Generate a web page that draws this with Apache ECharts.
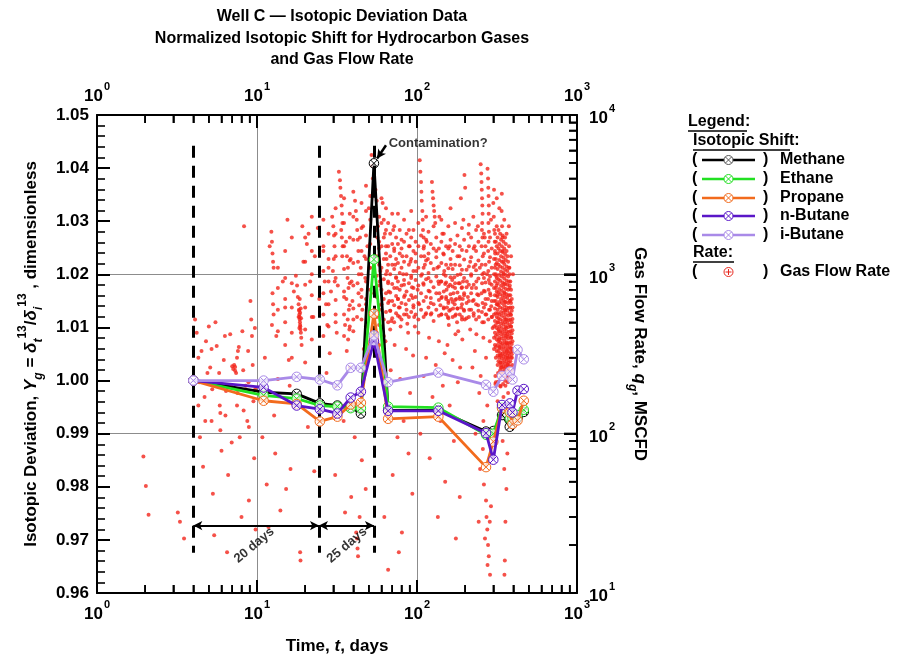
<!DOCTYPE html>
<html><head><meta charset="utf-8">
<script src="https://cdn.jsdelivr.net/npm/echarts@6/dist/echarts.min.js"></script>
<style>html,body{margin:0;padding:0;background:#fff}#c{width:903px;height:665px}</style>
</head><body><div id="c"></div>
<script>
const FONT = '"Liberation Sans", Arial, Helvetica, sans-serif';

// ---- isotopic data (time in days, normalized isotopic shift) ----
const isoTime   = [4, 11, 17.7, 24.7, 31.8, 38.5, 44.6, 53.8, 66, 136, 270, 300, 340, 380, 395, 425, 465];
const methane   = [1.0000, 0.9978, 0.9975, 0.9957, 0.9953, 0.9950, 0.9938, 1.0409, 0.9944, 0.9944, 0.9904, 0.9905, 0.9935, 0.9913, 0.9925, 0.9930, 0.9941];
const ethane    = [1.0000, 0.9972, 0.9966, 0.9953, 0.9951, 0.9948, 0.9948, 1.0228, 0.9951, 0.9949, 0.9898, 0.9900, 0.9950, 0.9928, 0.9930, 0.9935, 0.9945];
const propane   = [1.0000, 0.9962, 0.9956, 0.9923, 0.9932, 0.9955, 0.9958, 1.0126, 0.9928, 0.9932, 0.9837, 0.9885, 0.9948, 0.9940, 0.9918, 0.9925, 0.9962];
const nButane   = [1.0000, 0.9987, 0.9953, 0.9946, 0.9938, 0.9968, 0.9979, 1.0074, 0.9943, 0.9943, 0.9901, 0.9851, 0.9954, 0.9957, 0.9940, 0.9981, 0.9984];
const iButane   = [1.0000, 1.0000, 1.0007, 1.0002, 0.9991, 1.0024, 1.0024, 1.0085, 0.9997, 1.0015, 0.9992, 0.9979, 1.0009, 1.0017, 1.0002, 1.0058, 1.0040];
const gasNames  = ['Methane', 'Ethane', 'Propane', 'n-Butane', 'i-Butane'];
const gasColors = ['#000000', '#22e022', '#f26b1d', '#5a16c8', '#a98ae8'];
const gasValues = [methane, ethane, propane, nButane, iButane];
const drawOrder = [0, 1, 2, 4, 3];

// ---- gas flow rate (time in days, MSCFD): individual points ----
const gasRate = [
 [1.95,72],[2.02,47],[2.1,31],[3.2,32],[3.3,28],[3.5,22],
 [4.1,520],[4.2,430],[4.3,150],[4.4,95],[4.5,330],[4.6,62],[4.8,380],[5.0,470],[5.1,260],[5.2,120],[5.3,42],[5.5,500],[5.6,355],[5.7,210],[5.9,135],[6.0,78],[6.2,290],[6.4,185],[6.6,55],[6.8,420],[7.0,265],[7.1,255],[7.2,270],[7.3,248],[7.3,262],[7.4,240],[7.5,150],[7.7,350],[7.8,95],[8.0,30],[8.3,2000],[8.5,200],[8.7,120],[8.9,38],[9.1,680],[9.2,520],[9.3,410],[9.4,270],[9.5,160],[9.6,70],[9.8,25],[6.5,18],[5.4,23],[7.6,330],[4.9,240],[8.1,440],
 [4.3,300],[4.35,210],[4.7,170],[4.75,120],[5.2,340],[5.25,190],[5.8,240],[5.85,150],[5.9,105],[6.3,410],[6.35,130],[6.9,200],[6.95,88],[7.5,300],[7.55,180],[8.2,250],[8.25,140],[8.8,330],[8.85,210],[8.9,110],[9.7,460],[9.75,190],
 [10.5,170],[10.8,95],[11.2,300],[11.5,48],[12.0,1500],[12.3,1850],[12.4,1600],[12.5,1350],[12.6,1200],[12.7,1100],[12.5,760],[12.6,650],[12.7,560],[12.4,480],[12.8,130],[13.2,410],[13.5,220],[14.0,33],[14.5,900],[15.0,620],[15.5,2200],[15.8,290],[16.2,60],[16.5,1700],[17.0,780],[17.5,980],[17.8,850],[18.0,720],[18.2,650],[18.3,600],[18.4,560],[18.5,520],[18.6,480],[18.7,450],[18.8,430],[18.9,400],[19.0,360],[18.5,700],[18.2,540],[19.2,2000],[19.5,1200],[20.0,280],[20.5,1550],[21.0,1800],[21.5,900],[22.0,2300],[22.5,540],[23.0,1300],[23.5,150],[24.0,1950],[24.5,700],[16.0,200],[13.0,75],[15.2,45],[20.8,110],[22.8,58],[18.6,18],[18.7,16],[11.8,26],
 [18.35,590],[18.45,540],[18.55,500],[18.65,470],[18.75,610],[18.85,530],[18.4,460],[18.6,575],
 [32.5,4400],[33,3900],[33.2,3500],[33.5,3100],[33.8,2700],[34,2400],[34.2,2100],[33.6,1900],[33.9,1700],[34.3,1500],[34.1,1300],
 [29.5,2300],[30,2000],[30.3,1750],[30.5,1500],[30.2,1250],[29.8,1050],[30.6,900],
 [41,2900],[41.5,2500],[42,2200],[42.3,1900],[42.6,1650],[43,1400],[42.8,1200],[43.3,1000],[42.5,880],[43.1,760],[43.5,640],[42.2,540],
 [36,1600],[36.5,1300],[37,1100],[36.8,950],[37.3,820],[36.2,700],[37.5,600],[36.9,520],[37.8,450],[37.1,390],[36.4,330],
 [26,1400],[26.5,900],[27,650],[27.5,480],[28,1100],[28.5,320],[29,780],[31,560],[31.5,430],[32,850],[35,720],[35.5,480],[38.5,1250],[39,900],[39.5,680],[40,520],[44,1700],[44.5,1100],[45,800],[45.5,600],[46,2000],[47,1300],[47.5,950],[48,700],[49,1500],[50,2600],[50.5,1100],[27.2,240],[31.2,200],[38.2,260],[46.5,340],[28.8,150],[34.8,120],[40.8,95],[45.2,68],[30.8,55],[38.8,40],[43.8,30],[42.2,22],[42.5,19],[42.8,17],[41.7,24],[35.5,32],[47.8,45],
 [52,5600],[52.5,4800],[53,4000],[55,3400],[56,2900],[55.5,2400],[57,2000],[56.5,1700],[58,1450],[57.5,1250],[59,1050],[58.5,900],[54,760],[60,650],[53.5,560],
 [61,2800],[62,2200],[63,1800],[64,1500],[64.5,1250],[65,1050],[66,900],[66.5,780],[67,680],[68,590],[69,510],[70,2400],[71,1900],[72,1400],[73,1150],[74,960],[75,820],[76,700],[77,620],[78,540],[79,470],[80,1650],[81,1300],[82,1000],[83,860],[84,740],[85,650],[86,560],[87,490],[88,430],[89,1900],[90,1500],[91,1200],[92,980],[93,830],[94,710],[95,620],[96,540],[97,470],[98,1350],[99,1050],[63.5,380],[72.5,360],[85.5,340],[94.5,310],[68.5,250],[78.5,220],[90.5,180],[65.5,140],[82.5,120],[75.5,95],[88.5,75],[70.5,55],[93.5,42],[62.5,30],[80.5,24],[77,18],[66,14],
 [104,5200],[105,4400],[106,3800],[106.5,3300],[107,2900],[108,2500],[108.5,2200],[109,1900],[110,1700],[110.5,1500],[111,1300],[112,1150],[107.5,1000],[109.5,880],
 [124,3800],[125,3300],[126,3000],[127,2700],[128,2500],[129,2300],[130,2100],
 [101,800],[103,650],[113,560],[115,1600],[117,1250],[118,950],[120,780],[122,660],[123,570],[132,1400],[134,1100],[136,900],[138,760],[140,640],[142,560],[144,1800],[146,1350],[148,1050],[150,870],[152,720],[154,620],[156,540],[158,480],[160,1500],[163,1150],[166,920],[169,760],[172,650],[175,560],[178,500],[181,440],[184,1300],[187,1000],[190,820],[193,700],[196,600],[199,520],[102,430],[119,400],[137,380],[155,360],[174,420],[192,390],[114,300],[131,270],[149,320],[167,290],[186,260],[110,230],[145,200],[180,210],[125,170],[160,150],[140,120],[105,100],[170,90],[120,70],[150,50],[185,40],[135,30],[175,22],[195,2200],[162,2600],[138,2300],[188,3000],[198,4200],[200,3500],
 [141,900],[143,720],[147,610],[151,980],[153,800],[157,680],[159,590],[161,860],[164,700],[168,610],[171,960],[173,820],[176,700],[179,610],[182,880],[185,720],[189,620],[191,540],[194,900],[197,760],
 [250,4900],[252,4300],[253,3800],[254,3400],[255,3000],[256,2700],[257,2400],[255.5,2100],[254.5,1900],[256.5,1700],[253.5,1500],[257.5,1300],[254,1150],[256,1000],[255,880],[253,760],[257,660],[254.5,580],[256,500],
 [276,4600],[278,4000],[279,3500],[280,3100],[281,2700],[280.5,2400],[279.5,2100],[281.5,1850],[280,1600],[278.5,1400],[282,1200],[279,1050],[281,920],[280,800],[278,700],[282,600],[279,520],
 [205,900],[208,720],[212,600],[215,1200],[218,1000],[220,820],[223,680],[226,570],[229,1500],[232,1150],[235,900],[238,750],[241,640],[244,540],[247,1100],[262,950],[265,780],[268,650],[271,560],[274,1000],[285,880],[288,740],[291,630],[294,540],[297,460],[210,1800],[225,2300],[240,2000],[265,1700],[290,2200],[215,450],[235,420],[260,400],[285,380],[230,330],[270,300],[222,260],[250,230],[245,180],[275,150],[260,120],[232,100],
 [248,60],[262,48],[270,38],[272,30],[275,25],[278,20],[281,17],[276,15],[266,22],[285,28],[290,35],[258,80],[243,28],[286,13],
 [300,2800],[302,2300],[304,1900],[306,1600],[308,1350],[310,1150],[312,980],[314,850],[316,740],[318,650],[320,570],[322,500],[324,440],[326,390],[328,350],[330,310],[332,280],[334,260],[336,240],[338,2500],[340,2000],[342,1700],[344,1400],[346,1200],[348,1000],[350,870],[352,760],[354,670],[356,590],[358,520],[360,460],[362,410],[364,370],[366,330],[368,300],[370,270],[372,250],[374,230],[376,1500],[378,1100],[380,850],[382,680],[384,560],[386,470],[388,400],[390,340],[392,300],[394,270],[396,250],[398,1000],
 [303,3400],[315,3000],[327,2600],[339,3200],[351,2200],[363,1800],[375,2000],[387,1300],[311,210],[331,200],[355,215],[379,220],[319,160],[347,170],[371,180],[335,130],[359,140],[383,110],[343,90],[367,75],[351,60],[362,45],[357,28],[354,16],[352,13]
];

// ---- gas flow rate: dense columns, [time, rate, rate, ...] ----
const rateColumns = [
 [13.5,1100,820,600,440],[15,1400,950,700,500,360],[16.5,880,620,430,300],[20,1700,1200,860,620,450],[22,1400,1000,740,540,390],
 [26,2200,1500,1050,760,560,410],[28,1800,1250,900,650,470],[31,2600,1800,1300,950,690,500],[35,3000,2100,1500,1080,780,560,410],
 [38,2400,1700,1220,880,640,470],[40,3300,2300,1650,1180,850,610,440],[45,2800,1950,1400,1000,720,520],[48,3600,2500,1750,1250,900,650,470],[51,3100,2200,1550,1100,800],
 [56,1900,1300,980,720,540,430],[58,2300,1600,1150,850,640,480,360],[60,3000,2100,1500,1100,800,600,470],[62,1700,1250,930,700,520,410],
 [64,2600,1900,1350,1000,760,580],[66,2100,1500,1150,880,660,500],[68,1800,1300,1000,770,590,450],[70,1550,1150,870,680,530],
 [72,2000,1450,1080,820,640,500],[74,1700,1250,950,730,570],[76,2400,1550,1180,900,700,550],[78,1900,1350,1020,800,620],
 [80,1450,1100,850,660,520],[83,2200,1600,1200,920,720,560],[86,1800,1300,1000,780,600],[89,1500,1150,880,690,540],
 [92,2500,1700,1250,950,740,580],[95,1900,1400,1050,820,640],[98,1600,1200,920,720,560],[102,2100,1500,1100,850,660,520],
 [106,1750,1300,980,760,600],[110,1450,1100,860,680,540],[114,2300,1650,1220,930,720,570],[118,1850,1350,1020,790,620],
 [122,1550,1180,900,710,560],[127,2000,1450,1080,830,650,510],[132,1700,1280,970,760,600],[137,1450,1120,870,690,550],
 [142,2200,1600,1180,900,710,560],[147,1800,1330,1000,780,620],[152,1500,1150,890,700,560],[157,2000,1450,1090,840,660,530],
 [162,1650,1250,960,750,600],[167,1400,1080,840,670,540],[173,2100,1550,1150,880,690,550],[179,1750,1300,990,770,610],
 [185,1500,1140,880,700,560],[191,1950,1420,1070,830,650,520],[197,1650,1240,950,740,590],[204,1400,1070,830,660,530],
 [211,2050,1500,1120,860,680,540],[218,1700,1280,980,760,600],[226,1450,1110,860,690,550],[234,1900,1400,1060,820,650,520],
 [242,1600,1220,940,740,590],[262,1800,1350,1020,790,620,500],[268,1500,1150,890,700,560],[286,1700,1280,970,760,600],[293,1450,1100,860,680,540],
 [303,1250,1000,820,680,560,470,400,340],[307,1800,1400,1100,900,740,610,510,430,360],[311,1600,1250,1000,820,680,570,480,410,350,300],
 [315,2000,1500,1180,950,780,650,540,460,390,330],[319,1700,1350,1080,880,720,600,500,420,360,310,270],
 [323,1900,1450,1150,930,770,640,530,450,380,330,285],[327,1550,1230,990,810,670,560,470,400,345,300],
 [331,1800,1400,1120,910,750,620,520,440,375,320,280,250],[335,1650,1300,1040,850,700,580,490,420,360,310,270],
 [339,1500,1200,970,790,660,550,460,395,340,295,260],[343,1750,1380,1100,890,730,610,510,435,370,320,280,245],
 [347,1600,1270,1020,830,690,575,485,410,350,305,265],[351,1450,1160,940,770,640,535,450,385,330,290,255],
 [355,1700,1340,1070,870,720,600,500,425,365,315,275],[359,1550,1230,990,810,670,560,470,400,345,300,262],
 [363,1400,1120,910,750,620,520,440,375,325,285,250],[367,1300,1050,860,710,590,495,420,360,310,270],
 [371,1200,970,800,660,550,465,395,340,295,258],[375,1100,900,740,615,515,435,370,320,280],
 [379,1000,820,680,570,480,410,350,305,265],[383,900,740,620,520,440,375,325,285],[387,800,660,555,470,400,345,300],
 [391,700,590,500,425,365,315],[395,620,525,445,380,330],
 [309,230,205],[321,240,212],[333,225,198],[345,232,205],[357,228,200],[369,235,210]
];

// ---- annotations & ticks ----
const periodLines  = [4, 24.4, 53.8];          // dashed vertical markers (days)
const periodLabels = ['20 days', '25 days'];
const labelTimes   = [9.6, 36.5];
const xTickValues  = [1, 10, 100, 1000];
const rateTickValues = [10, 100, 1000, 10000];

function minorLog(lo, hi) {
  const out = [];
  for (let d = lo; d < hi; d *= 10) for (let k = 2; k <= 9; k++) out.push(d * k);
  return out;
}
const ratePoints = gasRate.slice();
rateColumns.forEach(c => { for (let k = 1; k < c.length; k++) ratePoints.push([c[0], c[k]]); });

const XC = 'path://M0,10A10,10,0,1,1,20,10A10,10,0,1,1,0,10Z M2.93,2.93L17.07,17.07M17.07,2.93L2.93,17.07';

const supRich = {
  b: {fontSize: 17, fontWeight: 'bold', fontFamily: FONT, color: '#000', lineHeight: 24, verticalAlign: 'bottom'},
  s: {fontSize: 11, fontWeight: 'bold', fontFamily: FONT, color: '#000', lineHeight: 24, verticalAlign: 'top', padding: [0, 0, 0, 1]}
};
const supFmt = v => '{b|10}{s|' + Math.round(Math.log10(v)) + '}';
const NF = 17;
const nameRich = {
  i: {fontSize: NF, fontWeight: 'bold', fontStyle: 'italic', fontFamily: FONT, color: '#000'},
  sb: {fontSize: 12, fontWeight: 'bold', fontStyle: 'italic', fontFamily: FONT, color: '#000', verticalAlign: 'bottom', lineHeight: 28},
  sp: {fontSize: 12, fontWeight: 'bold', fontFamily: FONT, color: '#000', verticalAlign: 'top', lineHeight: 28}
};
const nameStyle = {fontSize: NF, fontWeight: 'bold', fontFamily: FONT, color: '#000', lineHeight: 28, rich: nameRich};

const logTicks = {
  axisTick: {show: true, inside: true, length: 13, lineStyle: {color: '#000', width: 2}},
  minorTick: {show: true, splitNumber: 9, length: 8, lineStyle: {color: '#000', width: 1.6}}
};
const baseLog = (pos, margin) => Object.assign({
  type: 'log', logBase: 10, min: 1, max: 1000, interval: 1, position: pos,
  axisLine: {show: true, onZero: false, lineStyle: {color: '#000', width: 2}},
  axisLabel: {show: true, formatter: supFmt, rich: supRich, margin: margin},
  splitLine: {show: false}
}, logTicks);

const xBottom = baseLog('bottom', 6);
xBottom.splitLine = {show: true, lineStyle: {color: '#8c8c8c', width: 1}};
xBottom.name = 'Time, {i|t}, days';
xBottom.nameLocation = 'middle';
xBottom.nameGap = 39;
xBottom.nameTextStyle = nameStyle;
const xTop = baseLog('top', 10);

const series = [];
series.push({
  type: 'scatter', name: 'Gas Flow Rate', xAxisIndex: 0, yAxisIndex: 1,
  data: ratePoints, symbol: 'circle', symbolSize: 4,
  itemStyle: {color: '#f2261b'}, z: 2, silent: true
});
drawOrder.forEach(i => {
  series.push({
    type: 'line', name: gasNames[i], xAxisIndex: 0, yAxisIndex: 0,
    data: isoTime.map((t, k) => [t, gasValues[i][k]]),
    symbol: XC, symbolSize: 9.5, symbolKeepAspect: true, showAllSymbol: true,
    lineStyle: {color: gasColors[i], width: 2.8},
    itemStyle: {color: 'rgba(255,255,255,0.75)', borderColor: gasColors[i], borderWidth: 1},
    z: 4 + i
  });
});
// dashed period markers
series.push({
  type: 'line', xAxisIndex: 0, yAxisIndex: 0, data: [], z: 10,
  markLine: {
    silent: true, symbol: ['none', 'none'], label: {show: false},
    lineStyle: {color: '#000', width: 3, type: [12, 8]},
    data: periodLines.map(t => [{coord: [t, 1.0442]}, {coord: [t, 0.9676]}])
  }
});
// interval arrows
series.push({
  type: 'line', xAxisIndex: 0, yAxisIndex: 0, data: [], z: 10,
  markLine: {
    silent: true, symbol: ['arrow', 'arrow'], symbolSize: [7, 9], label: {show: false},
    lineStyle: {color: '#000', width: 2, type: 'solid'},
    data: [[{coord: [periodLines[0], 0.9727]}, {coord: [periodLines[1], 0.9727]}],
           [{coord: [periodLines[1], 0.9727]}, {coord: [periodLines[2], 0.9727]}]]
  }
});
// contamination arrow
series.push({
  type: 'line', xAxisIndex: 0, yAxisIndex: 0, data: [], z: 10,
  markLine: {
    silent: true, symbol: ['none', 'arrow'], symbolSize: [7, 9], label: {show: false},
    lineStyle: {color: '#000', width: 2.5, type: 'solid'},
    data: [[{coord: [64, 1.0443]}, {coord: [56.3, 1.0418]}]]
  }
});
// text labels
series.push({
  type: 'scatter', xAxisIndex: 0, yAxisIndex: 0, symbolSize: 0, z: 11, silent: true,
  data: periodLabels.map((s, k) => ({value: [labelTimes[k], 0.9690], name: s})),
  label: {show: true, formatter: p => p.name, rotate: 40, position: 'inside',
          fontSize: 13, fontWeight: 'bold', fontFamily: FONT, color: '#000'}
});
series.push({
  type: 'scatter', xAxisIndex: 0, yAxisIndex: 0, symbolSize: 0, z: 11, silent: true,
  data: [{value: [66.5, 1.0447], name: 'Contamination?'}],
  label: {show: true, formatter: p => p.name, position: 'right', distance: 0,
          fontSize: 13, fontWeight: 'bold', fontFamily: FONT, color: '#000'}
});

// legend drawn as graphics
const LF = 16;
const g = [];
const txt = (x, y, s) => ({type: 'text', x: x, y: y, silent: true,
  style: {text: s, font: 'bold ' + LF + 'px ' + FONT, fill: '#000', align: 'left', verticalAlign: 'middle'}});
g.push(txt(688, 122, 'Legend:'));
g.push({type: 'line', silent: true, shape: {x1: 688, y1: 131, x2: 747, y2: 131}, style: {stroke: '#000', lineWidth: 1.5}});
g.push(txt(693, 141, 'Isotopic Shift:'));
g.push({type: 'line', silent: true, shape: {x1: 693, y1: 150, x2: 790, y2: 150}, style: {stroke: '#000', lineWidth: 1.5}});
const rowY = [160, 179, 198, 216, 235];
gasNames.forEach((n, i) => {
  const y = rowY[i];
  const mc = gasColors[i] === '#000000' ? '#555' : gasColors[i];
  g.push(txt(692, y, '('));
  g.push({type: 'line', silent: true, shape: {x1: 702, y1: y, x2: 755, y2: y}, style: {stroke: gasColors[i], lineWidth: 2.6}});
  g.push({type: 'circle', silent: true, shape: {cx: 728.5, cy: y, r: 4.5}, style: {fill: '#fff', stroke: mc, lineWidth: 1}});
  g.push({type: 'line', silent: true, shape: {x1: 725.3, y1: y - 3.2, x2: 731.7, y2: y + 3.2}, style: {stroke: mc, lineWidth: 1}});
  g.push({type: 'line', silent: true, shape: {x1: 731.7, y1: y - 3.2, x2: 725.3, y2: y + 3.2}, style: {stroke: mc, lineWidth: 1}});
  g.push(txt(763, y, ')'));
  g.push(txt(780, y, n));
});
g.push(txt(693, 253, 'Rate:'));
g.push({type: 'line', silent: true, shape: {x1: 693, y1: 262, x2: 734, y2: 262}, style: {stroke: '#000', lineWidth: 1.5}});
g.push(txt(692, 272, '('));
g.push({type: 'circle', silent: true, shape: {cx: 728.5, cy: 272, r: 4.5}, style: {fill: '#fff', stroke: '#e8271d', lineWidth: 1}});
g.push({type: 'line', silent: true, shape: {x1: 728.5, y1: 269, x2: 728.5, y2: 275}, style: {stroke: '#e8271d', lineWidth: 1}});
g.push({type: 'line', silent: true, shape: {x1: 725.5, y1: 272, x2: 731.5, y2: 272}, style: {stroke: '#e8271d', lineWidth: 1}});
g.push(txt(763, 272, ')'));
g.push(txt(780, 272, 'Gas Flow Rate'));

const option = {
  animation: false,
  backgroundColor: '#fff',
  title: {
    text: 'Well C \u2014 Isotopic Deviation Data\nNormalized Isotopic Shift for Hydrocarbon Gases\nand Gas Flow Rate',
    left: 337, top: 1, textAlign: 'center',
    textStyle: {fontSize: 16, fontWeight: 'bold', fontFamily: FONT, color: '#000', lineHeight: 21.5}
  },
  grid: {left: 97, right: 326, top: 115, bottom: 69, containLabel: false},
  xAxis: [xBottom, xTop],
  yAxis: [
    {type: 'value', min: 0.96, max: 1.05, interval: 0.01, position: 'left',
     axisLine: {show: true, onZero: false, lineStyle: {color: '#000', width: 2}},
     axisTick: {show: true, inside: true, length: 13, lineStyle: {color: '#000', width: 2}},
     minorTick: {show: true, splitNumber: 5, length: 8, lineStyle: {color: '#000', width: 1.6}},
     axisLabel: {formatter: v => v.toFixed(2), fontSize: 17, fontWeight: 'bold', fontFamily: FONT, color: '#000', margin: 8},
     splitLine: {show: false},
     name: 'Isotopic Deviation, {i|Y}{sb|g} = {i|\u03B4}{sb|t}{sp|13}/{i|\u03B4}{sb|i}{sp|13} , dimensionless',
     nameLocation: 'middle', nameGap: 52, nameRotate: 90, nameTextStyle: nameStyle},
    Object.assign({type: 'log', logBase: 10, min: 10, max: 10000, interval: 1, position: 'right',
     axisLine: {show: true, onZero: false, lineStyle: {color: '#000', width: 2}},
     axisLabel: {formatter: supFmt, rich: supRich, margin: 12},
     splitLine: {show: true, lineStyle: {color: '#8c8c8c', width: 1}},
     name: 'Gas Flow Rate, {i|q}{sb|g}, MSCFD',
     nameLocation: 'middle', nameGap: 40, nameRotate: -90, nameTextStyle: nameStyle}, logTicks)
  ],
  graphic: g,
  series: series
};
const chart = echarts.init(document.getElementById('c'), null, {renderer: 'canvas'});
chart.setOption(option);

// log-axis tick marks, positioned through the scatter series' own axes
const tk = [];
try {
  const P = (t, q) => chart.convertToPixel({seriesIndex: 0}, [t, q]);
  const bl = P(1, 10), tr = P(1000, 10000);
  const seg = (x1, y1, x2, y2, w) => ({type: 'line', silent: true, z: 100,
    shape: {x1: x1, y1: y1, x2: x2, y2: y2}, style: {stroke: '#000', lineWidth: w}});
  const ok = a => Array.isArray(a) && isFinite(a[0]) && isFinite(a[1]);
  if (ok(bl) && ok(tr)) {
    xTickValues.forEach(v => { const x = P(v, 10)[0];
      tk.push(seg(x, bl[1], x, bl[1] - 13, 2), seg(x, tr[1], x, tr[1] + 13, 2)); });
    minorLog(1, 1000).forEach(v => { const x = P(v, 10)[0];
      tk.push(seg(x, bl[1], x, bl[1] - 8, 1.6), seg(x, tr[1], x, tr[1] + 8, 1.6)); });
    rateTickValues.forEach(v => { const y = P(1000, v)[1];
      tk.push(seg(tr[0], y, tr[0] - 13, y, 2)); });
    minorLog(10, 10000).forEach(v => { const y = P(1000, v)[1];
      tk.push(seg(tr[0], y, tr[0] - 8, y, 1.6)); });
  }
} catch (e) { /* keep the axis' own ticks */ }
if (tk.length) chart.setOption({graphic: g.concat(tk)});
</script></body></html>
